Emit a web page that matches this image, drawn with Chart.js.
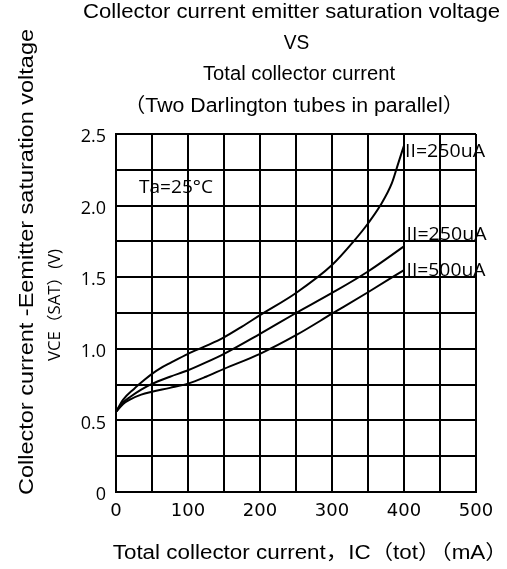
<!DOCTYPE html>
<html>
<head>
<meta charset="utf-8">
<script src="https://cdn.jsdelivr.net/npm/chart.js@4"></script>
<style>
  html, body { margin: 0; padding: 0; background: #fff; }
  #wrap { width: 507px; height: 569px; }
</style>
</head>
<body>
<div id="wrap"><canvas id="myChart" width="507" height="569"></canvas></div>
<script>
// series: total collector current (mA) vs VCE(sat) (V)
const seriesNames = ['II=250uA', 'II=250uA', 'II=500uA'];
const currentA = [0, 10, 25, 40, 50, 62, 75, 100, 125, 150, 175, 200, 250, 300, 330, 350, 367, 383, 392, 400];
const voltageA = [0.56, 0.645, 0.72, 0.785, 0.825, 0.865, 0.9, 0.965, 1.02, 1.08, 1.155, 1.235, 1.39, 1.585, 1.75, 1.875, 2.0, 2.155, 2.295, 2.42];
const currentB = [0, 10, 20, 35, 50, 75, 100, 125, 150, 200, 250, 300, 350, 400];
const voltageB = [0.56, 0.625, 0.665, 0.715, 0.755, 0.805, 0.85, 0.905, 0.965, 1.105, 1.25, 1.39, 1.54, 1.715];
const currentC = [0, 10, 20, 35, 50, 75, 100, 125, 150, 200, 250, 300, 350, 400];
const voltageC = [0.56, 0.615, 0.647, 0.68, 0.70, 0.727, 0.757, 0.805, 0.86, 0.965, 1.095, 1.245, 1.395, 1.55];

const xTickLabels = [0, 100, 200, 300, 400, 500];
const yTickLabels = [0, 0.5, 1.0, 1.5, 2.0, 2.5];

const titleLines = ['Collector current emitter saturation voltage', 'VS', 'Total collector current', '（Two Darlington tubes in parallel）'];
const yTitleLines = ['Collector current -Eemitter saturation voltage', 'VCE（SAT）(V)'];
const xTitle = 'Total collector current，IC（tot）（mA）';
const noteText = 'Ta=25°C';

function pairs(xs, ys) {
  return xs.map((x, i) => ({ x: x, y: ys[i] }));
}

// draws text stretched to a given width (the picture is a bit wider than normal fonts)
function fitText(ctx, text, x, y, font, width, align, rotate) {
  ctx.save();
  ctx.font = font;
  const w = ctx.measureText(text).width;
  ctx.translate(x, y);
  if (rotate) ctx.rotate(-Math.PI / 2);
  ctx.scale(width / w, 1);
  ctx.textAlign = align;
  ctx.textBaseline = 'alphabetic';
  ctx.fillStyle = '#000';
  ctx.fillText(text, 0, 0);
  ctx.restore();
}

const textPlugin = {
  id: 'texts',
  afterDraw(chart) {
    const c = chart.ctx;
    const sans = '20px "Liberation Sans", Arial, "Noto Sans CJK SC"';
    const calib = '18px "Open Sans", "Noto Sans CJK SC"';
    fitText(c, titleLines[0], 291.5, 17.5, sans, 417, 'center');
    fitText(c, titleLines[1], 296.5, 49, sans, 25.5, 'center');
    fitText(c, titleLines[2], 299, 80, sans, 192, 'center');
    fitText(c, titleLines[3], 294, 112, sans, 340, 'center');

    fitText(c, yTitleLines[0], 33, 262, sans, 466, 'center', true);
    fitText(c, yTitleLines[1], 60, 305, '16px "Open Sans", "Noto Sans CJK SC"', 112, 'center', true);

    fitText(c, xTitle, 112.7, 559, sans, 395, 'left');

    fitText(c, noteText, 139, 193, calib, 74, 'left');
    fitText(c, seriesNames[0], 405, 157, calib, 80, 'left');
    fitText(c, seriesNames[1], 406.5, 240, calib, 80, 'left');
    fitText(c, seriesNames[2], 406.5, 276, calib, 79, 'left');
  }
};

const lineStyle = {
  showLine: true,
  borderColor: '#000',
  backgroundColor: '#000',
  borderWidth: 2,
  pointRadius: 0,
  fill: false,
  cubicInterpolationMode: 'monotone'
};

new Chart(document.querySelector('#myChart'), {
  type: 'scatter',
  data: {
    datasets: [
      Object.assign({ label: seriesNames[0], data: pairs(currentA, voltageA) }, lineStyle),
      Object.assign({ label: seriesNames[1], data: pairs(currentB, voltageB) }, lineStyle),
      Object.assign({ label: seriesNames[2], data: pairs(currentC, voltageC) }, lineStyle)
    ]
  },
  options: {
    responsive: false,
    animation: false,
    devicePixelRatio: 1,
    layout: { padding: { top: 134, right: 31, bottom: 37, left: 0 } },
    plugins: {
      legend: { display: false },
      title: { display: false },
      tooltip: { enabled: false }
    },
    scales: {
      x: {
        type: 'linear',
        min: 0,
        max: 500,
        afterFit: (scale) => { scale.height = 40; },
        grid: { color: '#000', lineWidth: 2, drawTicks: false },
        border: { display: true, color: '#000', width: 2 },
        ticks: {
          stepSize: 50,
          autoSkip: false,
          maxRotation: 0,
          padding: 9,
          color: '#000',
          font: { family: '"DejaVu Sans"', size: 18 },
          callback: (v) => xTickLabels.includes(v) ? String(v) : ''
        }
      },
      y: {
        min: 0,
        max: 2.5,
        afterFit: (scale) => { scale.width = 116; },
        grid: { color: '#000', lineWidth: 2, drawTicks: false },
        border: { display: true, color: '#000', width: 2 },
        ticks: {
          stepSize: 0.25,
          autoSkip: false,
          padding: 10,
          labelOffset: 3,
          color: '#000',
          font: { family: '"Open Sans"', size: 18 },
          callback: (v) => yTickLabels.includes(v) ? (v === 0 ? '0' : v.toFixed(1)) : ''
        }
      }
    }
  },
  plugins: [textPlugin]
});
</script>
</body>
</html>
